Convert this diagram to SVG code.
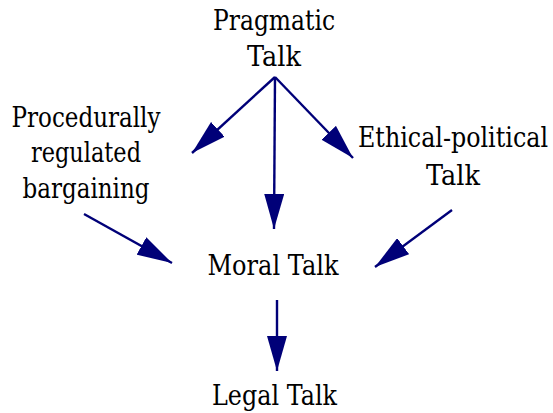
<svg xmlns="http://www.w3.org/2000/svg" width="553" height="413" viewBox="0 0 553 413">
<style>
.c{stroke:#000078;stroke-width:2.4;fill:none;marker-end:url(#ah)}
.t{font-family:'DejaVu Serif','Liberation Serif',serif;font-size:27px;fill:#000;text-anchor:middle}
</style>
<defs>
<marker id="ah" markerUnits="userSpaceOnUse" viewBox="0 0 35 20" refX="35" refY="10" markerWidth="35" markerHeight="20" orient="auto">
<path d="M0,0 L35,10 L0,20 Z" fill="#000078"/>
</marker>
</defs>
<rect width="553" height="413" fill="#fff"/>
<g id="connectors">
<line class="c" x1="275" y1="77" x2="192" y2="153"/>
<line class="c" x1="275" y1="77" x2="274" y2="229"/>
<line class="c" x1="275" y1="77" x2="353" y2="158"/>
<line class="c" x1="84" y1="214" x2="172" y2="263"/>
<line class="c" x1="452" y1="210" x2="375" y2="267"/>
<line class="c" x1="277" y1="300" x2="277" y2="371"/>
</g>
<g id="pragmatic"><text class="t" x="274" y="30" textLength="122" lengthAdjust="spacingAndGlyphs">Pragmatic</text><text class="t" x="274" y="66" textLength="54" lengthAdjust="spacingAndGlyphs">Talk</text></g>
<g id="bargaining"><text class="t" x="86" y="127" textLength="149" lengthAdjust="spacingAndGlyphs">Procedurally</text><text class="t" x="86" y="162" textLength="110" lengthAdjust="spacingAndGlyphs">regulated</text><text class="t" x="86" y="198" textLength="127" lengthAdjust="spacingAndGlyphs">bargaining</text></g>
<g id="ethical"><text class="t" x="453" y="147" textLength="190" lengthAdjust="spacingAndGlyphs">Ethical-political</text><text class="t" x="453" y="185" textLength="54" lengthAdjust="spacingAndGlyphs">Talk</text></g>
<g id="moral"><text class="t" x="273" y="275" textLength="131" lengthAdjust="spacingAndGlyphs">Moral Talk</text></g>
<g id="legal"><text class="t" x="274.5" y="405" textLength="125" lengthAdjust="spacingAndGlyphs">Legal Talk</text></g>
</svg>
